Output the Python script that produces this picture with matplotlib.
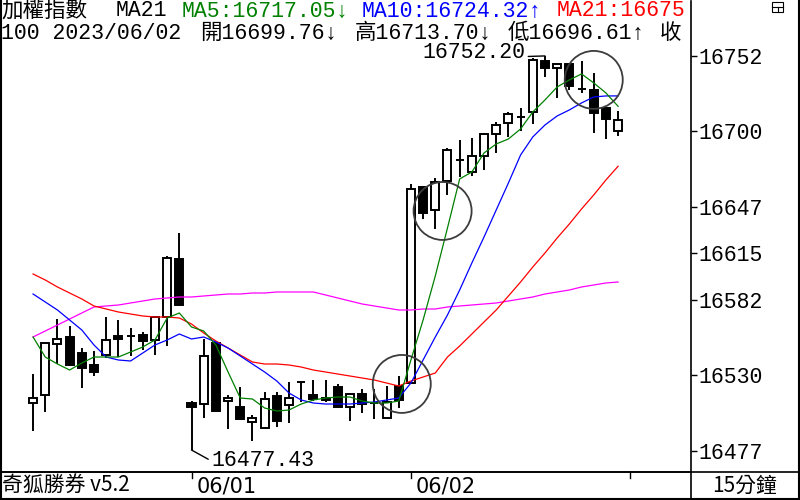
import matplotlib
matplotlib.use("Agg")
import matplotlib.pyplot as plt
import matplotlib.transforms as mtransforms
from matplotlib.patches import Ellipse, Rectangle
from matplotlib.lines import Line2D

# === data (15 min bars, 加權指數) ===
opens = [16510.20, 16515.78, 16551.34, 16556.23, 16545.07, 16536.70, 16543.67, 16556.92, 16556.92, 16557.62,
         16554.13, 16570.17, 16610.62, 16510.20, 16509.50, 16552.04, 16511.59, 16507.41, 16496.95, 16492.76,
         16515.08, 16508.80, 16524.84, 16515.78, 16513.68, 16521.36, 16507.41, 16516.47, 16510.20, 16499.74,
         16522.05, 16524.15, 16660.84, 16644.80, 16665.02, 16679.67, 16671.30, 16682.46, 16697.80, 16705.47,
         16709.65, 16713.14, 16748.71, 16743.83, 16746.62, 16729.18, 16728.48, 16715.93, 16699.76]
highs = [16530.42, 16552.04, 16568.78, 16563.90, 16548.55, 16546.46, 16570.17, 16568.08, 16562.50, 16559.71,
         16570.17, 16612.72, 16628.76, 16511.59, 16554.83, 16552.74, 16515.78, 16521.36, 16501.83, 16517.87,
         16517.87, 16524.84, 16524.84, 16526.24, 16526.24, 16523.45, 16517.17, 16519.96, 16519.96, 16522.05,
         16529.03, 16662.93, 16661.53, 16667.11, 16688.03, 16693.61, 16695.01, 16698.50, 16706.17, 16713.14,
         16715.93, 16750.80, 16752.20, 16746.62, 16746.62, 16748.71, 16740.34, 16715.93, 16713.70]
lows = [16490.67, 16503.92, 16537.40, 16536.00, 16520.66, 16529.03, 16541.58, 16542.28, 16542.98, 16547.16,
        16543.67, 16549.95, 16578.54, 16477.43, 16499.74, 16504.62, 16492.07, 16499.04, 16483.70, 16492.07,
        16493.46, 16496.25, 16510.90, 16511.59, 16510.90, 16507.41, 16497.64, 16503.22, 16499.04, 16499.74,
        16506.71, 16524.15, 16638.52, 16631.55, 16655.26, 16667.81, 16668.51, 16672.69, 16684.55, 16695.71,
        16699.89, 16704.77, 16737.55, 16722.90, 16728.48, 16726.39, 16698.50, 16694.31, 16696.61]
closes = [16513.68, 16552.04, 16554.83, 16536.70, 16534.61, 16531.82, 16554.13, 16554.83, 16556.92, 16553.44,
          16570.17, 16611.32, 16578.54, 16507.41, 16542.98, 16504.62, 16513.68, 16499.04, 16499.74, 16512.99,
          16497.64, 16513.68, 16524.84, 16512.99, 16512.29, 16507.41, 16516.47, 16509.50, 16510.20, 16510.90,
          16512.29, 16659.44, 16642.70, 16664.32, 16686.64, 16679.67, 16682.46, 16697.80, 16704.07, 16711.75,
          16709.65, 16749.41, 16743.83, 16746.62, 16731.27, 16729.18, 16712.44, 16708.26, 16707.56]

ma5 = [16556.23, 16542.28, 16537.40, 16533.21, 16538.09, 16542.28, 16542.28, 16542.28, 16545.77, 16549.25,
       16554.13, 16569.48, 16572.96, 16563.20, 16560.41, 16550.65, 16531.82, 16513.68, 16512.99, 16506.71,
       16504.62, 16505.32, 16509.50, 16512.29, 16513.68, 16514.38, 16514.38, 16511.59, 16510.20, 16510.20,
       16511.59, 16540.19, 16568.08, 16598.77, 16632.24, 16666.42, 16671.30, 16684.55, 16690.82, 16694.31,
       16701.29, 16713.14, 16721.51, 16730.58, 16735.46, 16739.64, 16733.37, 16726.39, 16717.05]
ma10 = [16586.21, 16580.64, 16575.06, 16568.08, 16561.11, 16550.65, 16542.28, 16540.19, 16539.49, 16545.07,
        16550.65, 16554.13, 16558.32, 16554.83, 16556.23, 16552.74, 16548.55, 16542.98, 16537.40, 16531.82,
        16525.54, 16517.17, 16512.29, 16510.20, 16509.50, 16509.50, 16509.50, 16510.20, 16510.90, 16512.29,
        16513.68, 16524.15, 16540.19, 16556.23, 16571.57, 16589.00, 16607.83, 16625.97, 16644.80, 16663.63,
        16683.15, 16695.71, 16704.07, 16710.35, 16714.54, 16719.42, 16723.60, 16724.30, 16724.32]
ma21 = [16600.16, 16595.98, 16591.10, 16586.91, 16582.73, 16577.85, 16575.75, 16573.66, 16572.27, 16570.87,
        16570.17, 16570.17, 16569.48, 16565.29, 16559.02, 16553.44, 16548.55, 16543.67, 16538.79, 16537.40,
        16537.40, 16536.70, 16535.30, 16533.21, 16531.82, 16530.42, 16529.03, 16527.63, 16526.24, 16524.15,
        16522.05, 16525.54, 16528.33, 16531.12, 16542.28, 16549.95, 16558.32, 16566.69, 16575.06, 16584.82,
        16594.58, 16605.04, 16614.81, 16625.27, 16635.03, 16645.49, 16655.26, 16665.72, 16675.30]
ma_long = [16556.23, 16560.41, 16564.59, 16568.78, 16572.96, 16577.15, 16577.85, 16578.54, 16579.94, 16581.33,
           16582.73, 16583.42, 16584.12, 16584.12, 16584.82, 16585.52, 16586.21, 16586.21, 16586.91, 16586.91,
           16587.61, 16587.61, 16587.61, 16587.61, 16585.52, 16583.42, 16581.33, 16579.24, 16577.85, 16576.45,
           16575.06, 16575.06, 16575.75, 16575.75, 16577.15, 16577.85, 16578.54, 16579.24, 16579.94, 16581.33,
           16582.73, 16584.12, 16586.21, 16587.61, 16589.00, 16591.10, 16592.49, 16593.89, 16594.58]

day_starts = [13, 31, 49]
day_labels = ["06/01", "06/02", ""]
yticks = [16752, 16700, 16647, 16615, 16582, 16530, 16477]

# highlighted spots (bar index, price)
circle_marks = [(30.25, 16523.5), (33.6, 16644.1), (46.0, 16735.5)]

# === layout helpers (pixels -> figure fraction) ===
W, H = 800, 500
def fx(px):
    return px / W
def fy(py):
    return 1 - py / H

MONO = ["Liberation Mono", "Noto Sans CJK TC"]
CJK = ["Noto Sans CJK TC", "DejaVu Sans"]

fig = plt.figure(figsize=(8, 5), dpi=100)
ax = fig.add_axes([fx(1), fy(472), fx(691) - fx(1), fy(1) - fy(472)])
ax.set_xlim(-2.63, 53.98)
ax.set_ylim(16462.1, 16790.5)

idx = list(range(len(closes)))
bottoms = [min(o, c) for o, c in zip(opens, closes)]
heights = [abs(c - o) for o, c in zip(opens, closes)]
fills = ["white" if c >= o else "black" for o, c in zip(opens, closes)]

# === candles ===
ax.vlines(idx, lows, highs, color="black", lw=1.4, zorder=2)
ax.bar(idx, heights, bottom=bottoms, width=0.66, color=fills,
       edgecolor="black", linewidth=1.4, zorder=3)

# === moving averages ===
ax.plot(idx, ma_long, color="#FF00FF", lw=0.9, zorder=4)
ax.plot(idx, ma21, color="#FF0000", lw=0.9, zorder=4)
ax.plot(idx, ma10, color="#0000FF", lw=0.9, zorder=4)
ax.plot(idx, ma5, color="#008000", lw=0.9, zorder=4)

for cx, cy in circle_marks:
    ax.add_patch(Ellipse((cx, cy), width=4.76, height=40.4, fill=False,
                         ec="#3c3c3c", lw=1.3, zorder=5))

# low / high labels
i_lo = lows.index(min(lows))
ax.annotate(f"{min(lows):.2f}", xy=(i_lo, min(lows)), xytext=(i_lo + 1.6, min(lows) - 7.5),
            ha="left", va="center", fontsize=15.5, fontfamily=MONO,
            arrowprops=dict(arrowstyle="-", lw=1, color="black", shrinkA=0, shrinkB=0,
                            relpos=(0, 0.5)))
i_hi = highs.index(max(highs))
ax.annotate(f"{max(highs):.2f}", xy=(i_hi, max(highs)), xytext=(i_hi - 1.6, max(highs) + 2.5),
            ha="right", va="center", fontsize=15.5, fontfamily=MONO,
            arrowprops=dict(arrowstyle="-", lw=1, color="black", shrinkA=0, shrinkB=0,
                            relpos=(1, 0.3)))

# === axes styling ===
ax.set_xticks([])
ax.yaxis.tick_right()
ax.set_yticks(yticks)
ax.set_yticklabels([str(t) for t in yticks], fontfamily=MONO, fontsize=15.5)
ax.tick_params(axis="y", direction="out", length=4, width=1, pad=1)
ax.spines["top"].set_visible(False)
for s in ("left", "right", "bottom"):
    ax.spines[s].set_linewidth(1.2)

# === header ===
clip = mtransforms.TransformedBbox(mtransforms.Bbox([[0, 0], [fx(690), 1]]), fig.transFigure)
header = [
    ("加權指數", 1, 11, "black"), ("MA21", 116, 11, "black"),
    ("MA5:16717.05↓", 182, 11, "#008000"), ("MA10:16724.32↑", 362, 11, "#0000FF"),
    ("MA21:16675", 557, 11, "#FF0000"),
    ("100 2023/06/02", 1, 33, "black"),
    ("開16699.76↓", 200, 33, "black"), ("高16713.70↓", 355, 33, "black"),
    ("低16696.61↑", 508, 33, "black"), ("收", 660, 33, "black"),
]
for txt, px, py, col in header:
    t = fig.text(fx(px), fy(py), txt, color=col, fontsize=15.5, fontfamily=MONO,
                 ha="left", va="center")
    t.set_clip_box(clip)
    t.set_clip_on(True)

# === bottom strip and right panel ===
fig.add_artist(Line2D([0, 1], [fy(472), fy(472)], color="black", lw=1.2, transform=fig.transFigure))
fig.add_artist(Line2D([fx(691), fx(691)], [0, fy(472)], color="black", lw=1.2, transform=fig.transFigure))
for xs, ys in (([fx(0.6), fx(0.6)], [0, 1]), ([0, 1], [fy(499.4), fy(499.4)]),
               ([fx(799.4), fx(799.4)], [0, 1])):
    fig.add_artist(Line2D(xs, ys, color="black", lw=1.5, transform=fig.transFigure))

day_trans = mtransforms.blended_transform_factory(ax.transData, fig.transFigure)
for d, lab in zip(day_starts, day_labels):
    fig.add_artist(Line2D([d, d], [fy(472), fy(478)], color="black", lw=1, transform=day_trans))
    if lab:
        fig.text(d, fy(486), lab, fontsize=15, fontfamily=["Liberation Sans Narrow", "DejaVu Sans"],
                 ha="left", va="center",
                 transform=mtransforms.offset_copy(day_trans, fig=fig, x=5, y=0, units="dots"))

fig.text(fx(2), fy(486), "奇狐勝券 v5.2", fontsize=15, fontfamily=CJK, ha="left", va="center")
fig.text(fx(745), fy(486), "15分鐘", fontsize=15, fontfamily=CJK, ha="center", va="center")

# little window icon, top right
fig.add_artist(Rectangle((fx(772), fy(12)), fx(11), fy(2) - fy(12), fill=False, lw=0.8,
                         ec="black", transform=fig.transFigure))
fig.add_artist(Line2D([fx(772), fx(783)], [fy(7), fy(7)], color="black", lw=0.8, transform=fig.transFigure))
fig.add_artist(Line2D([fx(777.5), fx(777.5)], [fy(7), fy(12)], color="black", lw=0.8,
                      transform=fig.transFigure))

fig.savefig("out.png", dpi=100)
